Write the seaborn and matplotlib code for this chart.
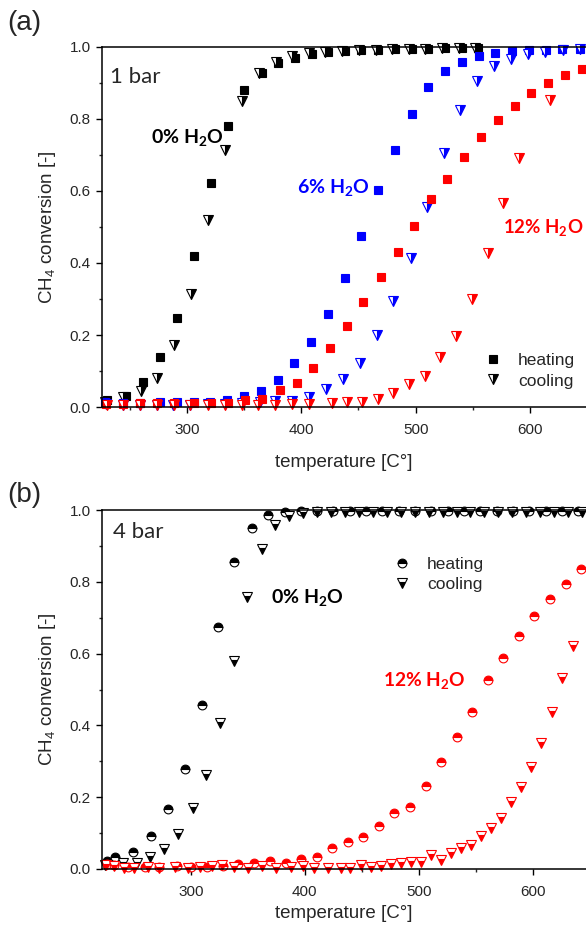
import matplotlib
matplotlib.use('Agg')
import matplotlib.pyplot as plt
import seaborn as sns
import pandas as pd
from matplotlib.lines import Line2D
from matplotlib.ticker import MultipleLocator

# ---------------- panel (a): 1 bar ----------------
a_h0_x = [229.6, 246.6, 261.8, 276.6, 291.5, 306.3, 320.9, 335.5, 350.1, 365.3, 379.8, 394.4, 409.0, 423.5, 438.0,
          452.6, 467.2, 481.8, 496.4, 511.0, 525.6, 540.2, 554.8]
a_h0_y = [0.019, 0.031, 0.069, 0.138, 0.248, 0.419, 0.623, 0.781, 0.880, 0.929, 0.955, 0.969, 0.981, 0.987, 0.989,
          0.991, 0.993, 0.994, 0.995, 0.995, 0.996, 0.996, 0.997]
a_c0_x = [228.5, 244.3, 259.5, 274.0, 288.6, 303.5, 318.0, 333.2, 347.8, 362.9, 377.5, 392.0, 406.6, 421.0, 436.0,
          450.5, 465.0, 479.5, 494.0, 508.5, 523.0, 537.5, 552.0]
a_c0_y = [0.015, 0.029, 0.045, 0.080, 0.172, 0.314, 0.520, 0.714, 0.850, 0.927, 0.957, 0.975, 0.984, 0.987, 0.990,
          0.992, 0.993, 0.994, 0.995, 0.995, 0.996, 0.996, 0.996]
a_h6_x = [228.3, 244.0, 259.0, 276.4, 291.0, 305.8, 320.4, 335.2, 349.8, 364.4, 379.2, 393.8, 408.4, 423.5, 438.1,
          452.6, 467.2, 481.8, 496.4, 510.9, 526.1, 540.6, 555.2, 569.8, 584.4, 599.0, 613.6, 628.2, 643.5]
a_h6_y = [0.015, 0.012, 0.012, 0.015, 0.015, 0.015, 0.015, 0.019, 0.031, 0.045, 0.075, 0.121, 0.180, 0.257, 0.359,
          0.475, 0.603, 0.714, 0.813, 0.888, 0.933, 0.959, 0.976, 0.984, 0.990, 0.992, 0.993, 0.994, 0.994]
a_c6_x = [229.0, 244.0, 259.0, 274.0, 288.0, 303.0, 318.0, 333.0, 348.0, 364.0, 377.3, 392.0, 406.6, 421.2, 436.6,
          451.2, 465.8, 480.3, 495.5, 509.5, 524.6, 539.2, 553.7, 568.3, 583.0, 598.0, 613.0, 628.9, 643.5]
a_c6_y = [0.008, 0.006, 0.006, 0.006, 0.006, 0.006, 0.008, 0.008, 0.010, 0.015, 0.017, 0.017, 0.029, 0.050, 0.078,
          0.123, 0.200, 0.295, 0.413, 0.556, 0.705, 0.825, 0.906, 0.948, 0.967, 0.980, 0.987, 0.992, 0.994]
a_h12_x = [229.0, 244.0, 259.0, 274.0, 289.0, 306.0, 321.0, 336.0, 350.7, 366.0, 381.3, 395.8, 410.4, 425.0, 439.6,
           454.1, 469.3, 484.2, 498.7, 513.2, 527.8, 542.4, 557.0, 572.1, 586.7, 601.3, 615.8, 630.4, 645.5]
a_h12_y = [0.008, 0.008, 0.010, 0.010, 0.010, 0.010, 0.012, 0.012, 0.019, 0.022, 0.047, 0.068, 0.107, 0.165, 0.225,
           0.293, 0.362, 0.430, 0.503, 0.577, 0.632, 0.695, 0.749, 0.797, 0.836, 0.873, 0.899, 0.922, 0.938]
a_c12_x = [230.0, 244.0, 259.0, 274.0, 289.0, 303.0, 318.0, 333.0, 348.0, 362.0, 377.0, 392.0, 407.0, 426.4, 439.6,
           453.2, 467.2, 480.3, 494.0, 508.0, 521.7, 535.7, 549.4, 563.1, 576.4, 590.2, 617.9]
a_c12_y = [0.005, 0.005, 0.005, 0.005, 0.005, 0.005, 0.005, 0.005, 0.005, 0.006, 0.006, 0.008, 0.008, 0.010, 0.015,
           0.015, 0.021, 0.040, 0.064, 0.087, 0.138, 0.198, 0.300, 0.427, 0.567, 0.691, 0.853]

# ---------------- panel (b): 4 bar ----------------
b_h0_x = [225.9, 233.2, 249.3, 264.8, 280.0, 294.7, 309.4, 324.0, 338.0, 353.3, 367.9, 382.6, 397.0, 411.0, 425.0,
          440.0, 454.0, 468.0, 483.0, 497.0, 511.0, 526.0, 540.0, 554.0, 569.0, 583.0, 597.0, 612.0, 626.0, 640.0]
b_h0_y = [0.022, 0.033, 0.048, 0.092, 0.166, 0.279, 0.457, 0.675, 0.855, 0.949, 0.986, 0.995, 0.997, 0.998, 0.998,
          0.998, 0.998, 0.998, 0.998, 0.998, 0.998, 0.998, 0.998, 0.998, 0.998, 0.998, 0.998, 0.998, 0.998, 0.998]
b_c0_x = [224.4, 240.5, 252.3, 264.0, 276.3, 288.8, 301.5, 313.2, 325.5, 337.8, 349.4, 362.0, 373.8, 386.3, 398.5,
          410.8, 423.0, 435.3, 447.5, 459.8, 472.0, 484.3, 496.5, 508.8, 521.0, 533.3, 545.5, 557.8, 570.0, 582.3,
          594.5, 606.8, 619.0, 631.3, 643.5]
b_c0_y = [0.010, 0.018, 0.018, 0.034, 0.055, 0.097, 0.169, 0.263, 0.408, 0.578, 0.759, 0.892, 0.959, 0.984, 0.993,
          0.995, 0.995, 0.995, 0.995, 0.995, 0.995, 0.995, 0.995, 0.995, 0.995, 0.995, 0.995, 0.995, 0.995, 0.995,
          0.995, 0.995, 0.995, 0.995, 0.995]
b_h12_x = [225.9, 232.0, 245.0, 259.6, 271.7, 287.4, 300.0, 314.0, 328.0, 341.5, 355.3, 369.4, 383.2, 396.4, 410.4,
           424.2, 437.5, 451.4, 465.2, 478.6, 492.4, 506.2, 519.6, 533.4, 547.2, 561.2, 574.4, 588.2, 601.6, 615.4,
           629.2, 642.7]
b_h12_y = [0.015, 0.010, 0.005, 0.006, 0.005, 0.008, 0.005, 0.006, 0.008, 0.013, 0.018, 0.023, 0.018, 0.027, 0.033,
           0.058, 0.074, 0.088, 0.120, 0.155, 0.173, 0.231, 0.297, 0.368, 0.437, 0.526, 0.589, 0.649, 0.704, 0.752,
           0.795, 0.836]
b_c12_x = [225.0, 232.0, 241.0, 250.0, 262.0, 272.0, 286.0, 297.0, 308.0, 318.0, 327.0, 338.0, 350.0, 362.0, 375.0,
           388.0, 398.0, 408.0, 420.0, 432.0, 440.0, 449.4, 457.9, 466.7, 475.7, 484.2, 493.2, 502.1, 510.6, 519.6,
           528.2, 537.2, 546.0, 554.8, 563.6, 572.4, 581.2, 590.0, 598.8, 607.6, 617.0, 626.3, 635.4]
b_c12_y = [0.012, 0.008, 0.004, 0.004, 0.006, 0.004, 0.006, 0.004, 0.006, 0.008, 0.012, 0.006, 0.004, 0.008, 0.004,
           0.006, 0.008, 0.004, 0.004, 0.004, 0.004, 0.010, 0.006, 0.009, 0.014, 0.018, 0.020, 0.020, 0.039, 0.025,
           0.044, 0.058, 0.067, 0.093, 0.113, 0.141, 0.187, 0.228, 0.283, 0.350, 0.437, 0.531, 0.620]

x_ticks = [300, 400, 500, 600]
y_ticks = [0.0, 0.2, 0.4, 0.6, 0.8, 1.0]

BLACK, BLUE, RED = '#000000', '#0000FF', '#FF0000'

sns.set_style('ticks')
plt.rcParams['font.family'] = ['Liberation Sans', 'DejaVu Sans']
plt.rcParams['axes.linewidth'] = 1.1

fig = plt.figure(figsize=(5.86, 9.27), dpi=100)
ax1 = fig.add_axes([101.7 / 586, 1 - 407 / 927, (586 - 101.7) / 586, 360 / 927])
ax2 = fig.add_axes([101.7 / 586, 1 - 869 / 927, (586 - 101.7) / 586, 359 / 927])


def draw(ax, x, y, marker, fs, color, ms):
    df = pd.DataFrame({'temperature': x, 'conversion': y})
    sns.lineplot(data=df, x='temperature', y='conversion', ax=ax, estimator=None, sort=False,
                 linestyle='', marker=marker, fillstyle=fs, color=color, markersize=ms,
                 markeredgecolor=color, markeredgewidth=0.8, markerfacecoloralt='white',
                 clip_on=False, legend=False)


# panel a
draw(ax1, a_h0_x, a_h0_y, 's', 'full', BLACK, 5.3)
draw(ax1, a_c0_x, a_c0_y, 'v', 'right', BLACK, 6.5)
draw(ax1, a_h6_x, a_h6_y, 's', 'full', BLUE, 5.3)
draw(ax1, a_c6_x, a_c6_y, 'v', 'right', BLUE, 6.5)
draw(ax1, a_h12_x, a_h12_y, 's', 'full', RED, 5.3)
draw(ax1, a_c12_x, a_c12_y, 'v', 'right', RED, 6.5)

# panel b
draw(ax2, b_h0_x, b_h0_y, 'o', 'top', BLACK, 6.3)
draw(ax2, b_c0_x, b_c0_y, 'v', 'bottom', BLACK, 7.0)
draw(ax2, b_h12_x, b_h12_y, 'o', 'top', RED, 6.3)
draw(ax2, b_c12_x, b_c12_y, 'v', 'bottom', RED, 7.0)

for ax, xlim, xlab_y in [(ax1, (225.4, 649.0), -0.153), (ax2, (221.5, 647.0), -0.124)]:
    ax.set_xlim(*xlim)
    ax.set_ylim(0, 1.0)
    ax.set_xticks(x_ticks)
    ax.set_yticks(y_ticks)
    ax.set_yticklabels([f'{v:.1f}' for v in y_ticks])
    ax.xaxis.set_minor_locator(MultipleLocator(50))
    ax.yaxis.set_minor_locator(MultipleLocator(0.1))
    ax.tick_params(which='major', direction='out', length=4.5, width=1.0, labelsize=11,
                   top=False, right=False, color='black')
    ax.tick_params(which='minor', direction='out', length=2.5, width=1.0, top=False, right=False)
    ax.tick_params(axis='x', which='major', pad=7)
    ax.tick_params(axis='y', which='major', pad=3.5)
    ax.spines['right'].set_visible(False)
    for s in ['left', 'bottom', 'top']:
        ax.spines[s].set_color('black')
    ax.set_xlabel('temperature [C°]', fontsize=13.5, va='center')
    ax.xaxis.set_label_coords(0.5, xlab_y)
    ax.set_ylabel('CH$_\\mathregular{4}$ conversion [-]', fontsize=13.5, va='center')
    ax.yaxis.set_label_coords(-0.111, 0.5)

ann_font = ['Lato', 'DejaVu Sans']
ax1.text(232.7, 0.917, '1 bar', fontsize=16, family=ann_font, ha='left', va='center')
ax1.text(268.5, 0.747, '0% H$_\\mathregular{2}$O', fontsize=14, family=ann_font, fontweight='bold',
         color=BLACK, ha='left', va='center')
ax1.text(396.0, 0.608, '6% H$_\\mathregular{2}$O', fontsize=14, family=ann_font, fontweight='bold',
         color=BLUE, ha='left', va='center')
ax1.text(576.0, 0.497, '12% H$_\\mathregular{2}$O', fontsize=13.4, family=ann_font, fontweight='bold',
         color=RED, ha='left', va='center')

ax2.text(231.4, 0.939, '4 bar', fontsize=16, family=ann_font, ha='left', va='center')
ax2.text(370.3, 0.755, '0% H$_\\mathregular{2}$O', fontsize=14, family=ann_font, fontweight='bold',
         color=BLACK, ha='left', va='center')
ax2.text(468.7, 0.524, '12% H$_\\mathregular{2}$O', fontsize=13.8, family=ann_font, fontweight='bold',
         color=RED, ha='left', va='center')

# legends
h1 = [Line2D([], [], linestyle='', marker='s', color=BLACK, markersize=5.3, markeredgewidth=0.8),
      Line2D([], [], linestyle='', marker='v', fillstyle='right', color=BLACK, markersize=6.5,
             markeredgewidth=0.8, markerfacecoloralt='white')]
ax1.legend(h1, ['heating', 'cooling'], loc='upper left', bbox_to_anchor=(0.79, 0.150), frameon=False,
           fontsize=12.5, handlelength=1.0, handletextpad=0.94, borderpad=0, borderaxespad=0,
           labelspacing=0.3)
h2 = [Line2D([], [], linestyle='', marker='o', fillstyle='top', color=BLACK, markersize=6.3,
             markeredgewidth=0.8, markerfacecoloralt='white'),
      Line2D([], [], linestyle='', marker='v', fillstyle='bottom', color=BLACK, markersize=7.0,
             markeredgewidth=0.8, markerfacecoloralt='white')]
ax2.legend(h2, ['heating', 'cooling'], loc='upper left', bbox_to_anchor=(0.602, 0.870), frameon=False,
           fontsize=12.5, handlelength=1.0, handletextpad=0.94, borderpad=0, borderaxespad=0,
           labelspacing=0.3)

fig.text(7 / 586, 1 - 23 / 927, '(a)', fontsize=20, ha='left', va='center')
fig.text(7 / 586, 1 - 495 / 927, '(b)', fontsize=20, ha='left', va='center')

fig.savefig('out.png', dpi=100)
